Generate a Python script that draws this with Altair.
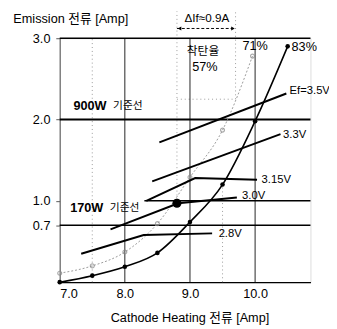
import altair as alt
import pandas as pd

FONT = "Liberation Sans, Noto Sans CJK KR"
X_DOMAIN = [7.0, 10.85]
Y_DOMAIN = [0.0, 3.0]

x_ticks = [7.0, 8.0, 9.0, 10.0]
y_ticks = [0.7, 1.0, 2.0, 3.0]

# Emission curves (black: 83%, gray dotted: 71%)
black_x = [7.0, 7.5, 8.0, 8.5, 9.0, 9.5, 10.0, 10.5]
black_y = [0.0, 0.08, 0.19, 0.36, 0.74, 1.2, 1.98, 2.9]
gray_x = [7.0, 7.5, 8.0, 8.5, 9.0, 9.5, 9.96]
gray_y = [0.11, 0.2, 0.37, 0.72, 1.29, 1.87, 2.78]

# Ef (heater voltage) lines
ef_labels = ["2.8V", "3.0V", "3.15V", "3.3V", "Ef=3.5V"]
ef_x = [[7.33, 8.29, 9.34], [7.78, 8.82, 9.72], [8.33, 9.08, 10.03], [8.42, 10.39], [8.53, 10.48]]
ef_y = [[0.35, 0.58, 0.60], [0.65, 0.97, 1.04], [1.00, 1.28, 1.26], [1.24, 1.82], [1.72, 2.32]]
ef_label_x = [9.44, 9.80, 10.10, 10.43, 10.53]
ef_label_y = [0.59, 1.06, 1.26, 1.81, 2.35]

# reference (기준선) lines
href_y = [3.0, 2.0, 0.7, 1.0]
href_x0 = [7.0, 7.0, 7.0, 8.3]
href_w = [1.5, 2.0, 1.5, 1.5]
vgrid_x = [8.0, 9.0, 10.0]

# operating point (170W)
op_x = [8.8]
op_y = [0.97]

# dotted guide lines
dv_x = [7.5, 8.8, 9.7, 9.5]
dv_y0 = [0.0, 0.97, 2.25, 0.0]
dv_y1 = [3.0, 3.33, 3.33, 1.2]
dh_y = [2.25]
dh_x0 = [8.8]
dh_x1 = [9.7]

# ΔIf arrow
arrow_x = [8.8, 9.7]
arrow_y = 3.12

xs = alt.Scale(domain=X_DOMAIN, nice=False, zero=False)
ys = alt.Scale(domain=Y_DOMAIN, nice=False, zero=False)

x_axis = alt.Axis(
    values=x_ticks, format=".1f", title="Cathode Heating 전류 [Amp]",
    grid=False, ticks=False, labelPadding=6, labelFontSize=13, labelFont=FONT,
    labelColor="black", domainColor="black", domainWidth=1.5,
    titleFont=FONT, titleFontSize=13, titleFontWeight="normal", titleColor="black",
    titleX=133, titleY=36, titleBaseline="middle")
y_axis = alt.Axis(
    values=y_ticks, format=".1f", title="Emission 전류 [Amp]",
    grid=False, tickSize=4, tickColor="#555", labelPadding=6, labelFontSize=13,
    labelFont=FONT, labelColor="black", domainColor="#666", domainWidth=1.2,
    titleFont=FONT, titleFontSize=13, titleFontWeight="normal", titleColor="black",
    titleAngle=0, titleAlign="left", titleBaseline="middle", titleX=-48, titleY=-20)


def X(f):
    return alt.X(f, type="quantitative", scale=xs, axis=x_axis)


def Y(f):
    return alt.Y(f, type="quantitative", scale=ys, axis=y_axis)


black_df = pd.DataFrame({"x": black_x, "y": black_y})
gray_df = pd.DataFrame({"x": gray_x, "y": gray_y})

ef_rows = []
for lab, xx, yy in zip(ef_labels, ef_x, ef_y):
    for i, (a, b) in enumerate(zip(xx, yy)):
        ef_rows.append({"ef": lab, "x": a, "y": b, "o": i})
ef_df = pd.DataFrame(ef_rows)
ef_lab_df = pd.DataFrame({"x": ef_label_x, "y": ef_label_y, "t": ef_labels})

href_df = pd.DataFrame({"y": href_y, "x0": href_x0, "x1": [X_DOMAIN[1]] * 4, "w": href_w})
vgrid_df = pd.DataFrame({"x": vgrid_x, "y0": [0.0] * 3, "y1": [3.0] * 3})
dv_df = pd.DataFrame({"x": dv_x, "y0": dv_y0, "y1": dv_y1})
dh_df = pd.DataFrame({"y": dh_y, "x0": dh_x0, "x1": dh_x1})

vgrid = alt.Chart(vgrid_df).mark_rule(color="#222", strokeWidth=1).encode(
    x=X("x"), y=Y("y0"), y2="y1")
dv = alt.Chart(dv_df).mark_rule(color="#999", strokeWidth=1, strokeDash=[1, 3]).encode(
    x=X("x"), y=Y("y0"), y2="y1")
dh = alt.Chart(dh_df).mark_rule(color="#999", strokeWidth=1, strokeDash=[1, 3]).encode(
    x=X("x0"), x2="x1", y=Y("y"))
href = alt.Chart(href_df).mark_rule(color="black").encode(
    x=X("x0"), x2="x1", y=Y("y"),
    strokeWidth=alt.StrokeWidth("w:Q", scale=None, legend=None))

gray_line = alt.Chart(gray_df).mark_line(
    color="#999", strokeWidth=1, strokeDash=[2, 2], interpolate="monotone").encode(
    x=X("x"), y=Y("y"))
gray_pts = alt.Chart(gray_df).mark_point(
    shape="circle", filled=False, color="#888", size=16, strokeWidth=1.2).encode(
    x=X("x"), y=Y("y"))
black_line = alt.Chart(black_df).mark_line(
    color="black", strokeWidth=1.6, interpolate="monotone").encode(
    x=X("x"), y=Y("y"))
black_pts = alt.Chart(black_df).mark_point(
    shape="circle", filled=True, color="black", size=22, opacity=1).encode(
    x=X("x"), y=Y("y"))

ef_lines = alt.Chart(ef_df).mark_line(color="black", strokeWidth=2).encode(
    x=X("x"), y=Y("y"), detail="ef:N", order="o:Q")
ef_text = alt.Chart(ef_lab_df).mark_text(
    align="left", baseline="middle", font=FONT, fontSize=11.5, color="black").encode(
    x=X("x"), y=Y("y"), text="t:N")

op_pt = alt.Chart(pd.DataFrame({"x": op_x, "y": op_y})).mark_point(
    shape="circle", filled=True, color="black", size=85, opacity=1).encode(
    x=X("x"), y=Y("y"))

# ΔIf arrow
arrow_df = pd.DataFrame({"x0": [arrow_x[0]], "x1": [arrow_x[1]], "y": [arrow_y]})
arrow_line = alt.Chart(arrow_df).mark_rule(color="black", strokeWidth=1, strokeDash=[3, 2]).encode(
    x=X("x0"), x2="x1", y=Y("y"))
head_df = pd.DataFrame({"x": [arrow_x[0] + 0.04, arrow_x[1] - 0.04], "y": [arrow_y] * 2,
                        "s": ["triangle-left", "triangle-right"]})
heads = alt.Chart(head_df).mark_point(filled=True, color="black", size=18, opacity=1).encode(
    x=X("x"), y=Y("y"), shape=alt.Shape("s:N", scale=None, legend=None))

# annotations
bold_df = pd.DataFrame({"x": [7.21, 7.16], "y": [2.17, 0.91], "t": ["900W", "170W"]})
bold_txt = alt.Chart(bold_df).mark_text(
    align="left", baseline="middle", font=FONT, fontSize=13, fontWeight="bold",
    color="black").encode(x=X("x"), y=Y("y"), text="t:N")
kr_df = pd.DataFrame({"x": [7.82, 7.77], "y": [2.17, 0.91], "t": ["기준선", "기준선"]})
kr_txt = alt.Chart(kr_df).mark_text(
    align="left", baseline="middle", font=FONT, fontSize=11, color="black").encode(
    x=X("x"), y=Y("y"), text="t:N")

pct_df = pd.DataFrame({"x": [10.0, 9.23], "y": [2.9, 2.64], "t": ["71%", "57%"]})
pct_txt = alt.Chart(pct_df).mark_text(
    align="center", baseline="middle", font=FONT, fontSize=13, color="black").encode(
    x=X("x"), y=Y("y"), text="t:N")
pct2_df = pd.DataFrame({"x": [10.56], "y": [2.89], "t": ["83%"]})
pct2_txt = alt.Chart(pct2_df).mark_text(
    align="left", baseline="middle", font=FONT, fontSize=13, color="black").encode(
    x=X("x"), y=Y("y"), text="t:N")
small_df = pd.DataFrame({"x": [9.2, 9.26], "y": [2.84, 3.25], "t": ["착탄율", "ΔIf≈0.9A"]})
small_txt = alt.Chart(small_df).mark_text(
    align="center", baseline="middle", font=FONT, fontSize=12, color="black").encode(
    x=X("x"), y=Y("y"), text="t:N")

chart = alt.layer(
    dv, dh, vgrid, href, gray_line, gray_pts, black_line, black_pts,
    ef_lines, op_pt, arrow_line, heads,
    ef_text, bold_txt, kr_txt, pct_txt, pct2_txt, small_txt,
).properties(
    width=257, height=250,
    padding={"left": 53, "top": 27, "right": 19, "bottom": 43},
    autosize=alt.AutoSizeParams(type="none"),
).configure_view(stroke=None).configure(background="white")

chart.save("out.html", embed_options={"renderer": "svg", "actions": False})
